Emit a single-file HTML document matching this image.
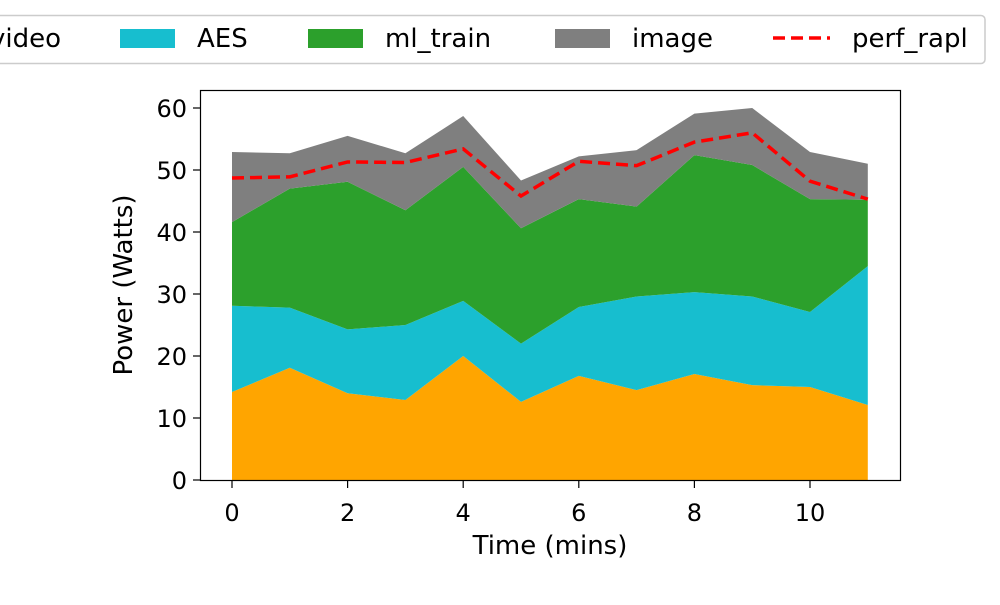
<!DOCTYPE html>
<html><head><meta charset="utf-8"><style>
body{margin:0;background:#fff;}
svg text{font-family:"DejaVu Sans","Liberation Sans",sans-serif;fill:#000;}
</style></head><body>
<svg id="chart" width="1000" height="600">
<g id="areas"></g>
<g id="line"></g>
<rect x="200.5" y="90.5" width="700" height="390" fill="none" stroke="#000" stroke-width="1.2"/>
<g id="axes"></g>
<text x="550" y="554" font-size="26" text-anchor="middle">Time (mins)</text>
<text transform="translate(132,285) rotate(-90)" font-size="26" text-anchor="middle">Power (Watts)</text>
<g>
<rect x="-10" y="15.5" width="995" height="48" rx="4" fill="#fff" stroke="#ccc" stroke-width="1.5"/>
<text x="-10" y="47" font-size="26">video</text>
<rect x="120" y="29" width="55" height="19" fill="#17becf"/>
<text x="197" y="47" font-size="26">AES</text>
<rect x="308" y="29" width="55" height="19" fill="#2ca02c"/>
<text x="385" y="47" font-size="26">ml_train</text>
<rect x="555" y="29" width="55" height="19" fill="#7f7f7f"/>
<text x="632" y="47" font-size="26">image</text>
<line x1="773" y1="38" x2="830" y2="38" stroke="#f00" stroke-width="3.5" stroke-dasharray="12,6"/>
<text x="852" y="47" font-size="26">perf_rapl</text>
</g>
</svg>
<script>
const times=[0,1,2,3,4,5,6,7,8,9,10,11];
const video=[14.2,18.1,14.0,12.9,20.0,12.6,16.8,14.5,17.1,15.3,15.0,12.1];
const aes=[13.9,9.7,10.3,12.1,8.9,9.4,11.1,15.1,13.2,14.3,12.1,22.4];
const mlTrain=[13.5,19.2,23.8,18.5,21.6,18.6,17.4,14.5,22.1,21.2,18.2,10.7];
const image=[11.3,5.7,7.4,9.2,8.2,7.7,6.9,9.1,6.7,9.2,7.6,5.8];
const perfRapl=[48.7,48.9,51.3,51.2,53.4,45.8,51.4,50.7,54.5,56.0,48.2,45.3];
const xTicks=[0,2,4,6,8,10];
const yTicks=[0,10,20,30,40,50,60];
const NS="http://www.w3.org/2000/svg";
const X=v=>232+v*57.8, Y=v=>480-v*6.2;
const series=[video,aes,mlTrain,image], colors=["#ffa500","#17becf","#2ca02c","#7f7f7f"], names=["video","aes","ml-train","image"];
const areas=document.getElementById('areas');
let base=times.map(()=>0);
series.forEach((s,k)=>{
  const top=base.map((b,i)=>b+s[i]);
  let d=times.map((t,i)=>(i?'L':'M')+X(t)+','+Y(top[i])).join('');
  for(let i=times.length-1;i>=0;i--)d+='L'+X(times[i])+','+Y(base[i]);
  const p=document.createElementNS(NS,'path');
  p.setAttribute('d',d+'Z');p.setAttribute('fill',colors[k]);
  
  
  areas.appendChild(p);base=top;
});
const lp=document.createElementNS(NS,'path');
lp.setAttribute('d',times.map((t,i)=>(i?'L':'M')+X(t)+','+Y(perfRapl[i])).join(''));
lp.setAttribute('fill','none');lp.setAttribute('stroke','#f00');lp.setAttribute('stroke-width','3.5');lp.setAttribute('stroke-dasharray','12,6');


document.getElementById('line').appendChild(lp);
const ax=document.getElementById('axes');
xTicks.forEach(t=>{
  const l=document.createElementNS(NS,'line');
  l.setAttribute('x1',X(t));l.setAttribute('x2',X(t));l.setAttribute('y1',481);l.setAttribute('y2',488);l.setAttribute('stroke','#000');l.setAttribute('stroke-width','1.2');
  
  
  ax.appendChild(l);
  const tx=document.createElementNS(NS,'text');
  tx.setAttribute('x',X(t));tx.setAttribute('y',521);tx.setAttribute('font-size','24');tx.setAttribute('text-anchor','middle');tx.textContent=t;
  
  
  ax.appendChild(tx);
});
yTicks.forEach(t=>{
  const l=document.createElementNS(NS,'line');
  l.setAttribute('x1',193);l.setAttribute('x2',200);l.setAttribute('y1',Y(t));l.setAttribute('y2',Y(t));l.setAttribute('stroke','#000');l.setAttribute('stroke-width','1.2');
  
  
  ax.appendChild(l);
  const tx=document.createElementNS(NS,'text');
  tx.setAttribute('x',187);tx.setAttribute('y',Y(t)+9);tx.setAttribute('font-size','24');tx.setAttribute('text-anchor','end');tx.textContent=t;
  
  
  ax.appendChild(tx);
});
</script>
</body></html>
